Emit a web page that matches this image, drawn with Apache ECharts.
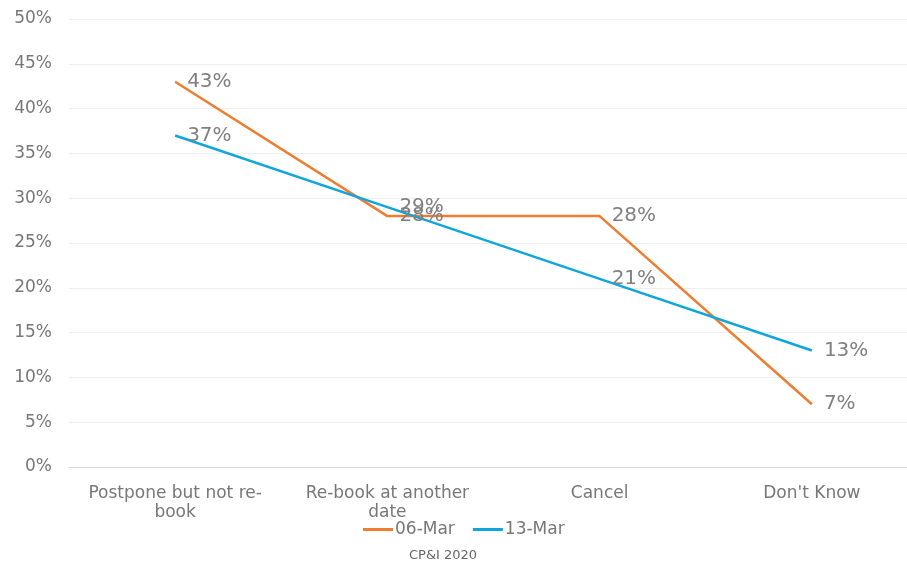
<!DOCTYPE html>
<html>
<head>
<meta charset="utf-8">
<script src="https://cdn.jsdelivr.net/npm/echarts@6/dist/echarts.min.js"></script>
<style>html,body{margin:0;padding:0;background:#fff}#c{width:907px;height:563px}</style>
</head>
<body>
<div id="c"></div>
<script>
const categories = ["Postpone but not re-\nbook", "Re-book at another\ndate", "Cancel", "Don't Know"];
const seriesNames = ["06-Mar", "13-Mar"];
const mar06 = [43, 28, 28, 7];
const mar13 = [37, 29, 21, 13];
const colors = ["#ED7D31", "#0FA6DC"];
const font = "DejaVu Sans";

const chart = echarts.init(document.getElementById('c'));
const mkSeries = (name, data, color) => ({
  name, type: 'line', data, symbol: 'circle', symbolSize: 0, showSymbol: true, smooth: false,
  lineStyle: { color, width: 2.5 }, itemStyle: { color },
  label: { show: true, position: 'right', distance: 12, formatter: p => p.value + '%',
    color: '#808080', fontSize: 20, fontFamily: font }
});
chart.setOption({
  animation: false,
  textStyle: { fontFamily: font },
  title: { text: 'CP&I 2020', left: 409, top: 549, padding: 0, textStyle: { fontSize: 13, fontWeight: 'normal', color: '#666666', fontFamily: font } },
  legend: { bottom: 20, left: 358, itemWidth: 30, itemHeight: 3, itemGap: 18, icon: 'rect',
    textStyle: { color: '#777777', fontSize: 17, fontFamily: font, padding: [0, 0, 0, -3] },
    data: seriesNames },
  grid: { left: 69, width: 849, top: 19, bottom: 96, outerBoundsMode: 'none', containLabel: false },
  xAxis: { type: 'category', data: categories, boundaryGap: true,
    axisLine: { lineStyle: { color: '#D9D9D9' } }, axisTick: { show: false },
    axisLabel: { color: '#777777', fontSize: 17, fontFamily: font, margin: 17, lineHeight: 19, interval: 0 } },
  yAxis: { type: 'value', min: 0, max: 50, interval: 5,
    axisLabel: { formatter: '{value}%', color: '#777777', fontSize: 17, fontFamily: font, margin: 17 },
    splitLine: { lineStyle: { color: '#EEEEEE' } }, axisLine: { show: false }, axisTick: { show: false } },
  series: [mkSeries(seriesNames[0], mar06, colors[0]), mkSeries(seriesNames[1], mar13, colors[1])]
});
</script>
</body>
</html>
